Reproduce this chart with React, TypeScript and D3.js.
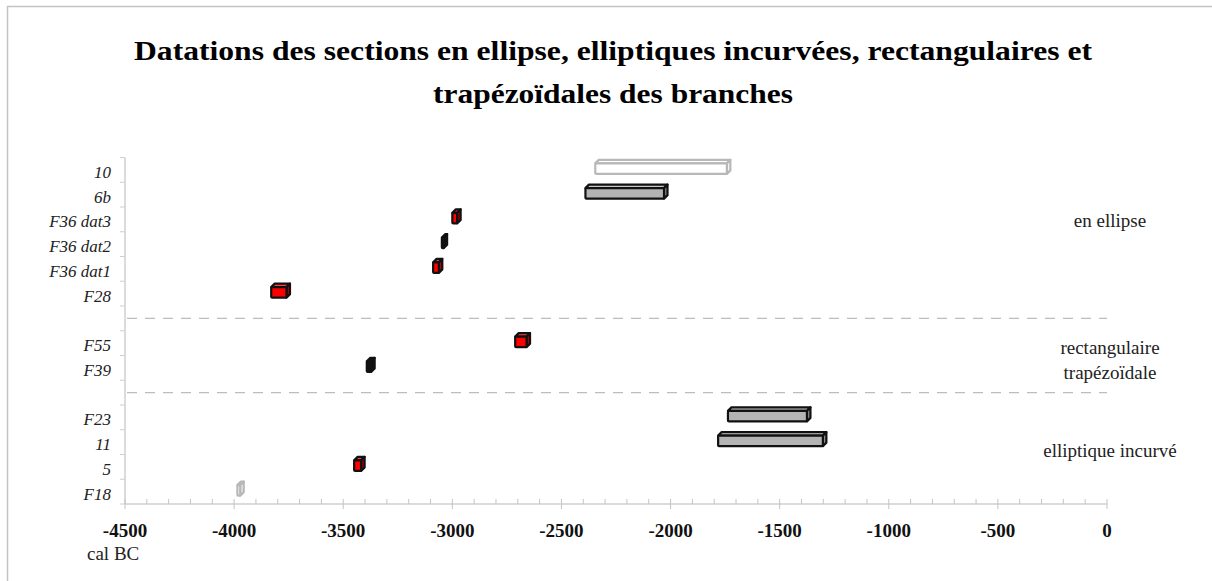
import { useMemo } from "react"
import * as d3 from "d3"

// categories from top to bottom; "gap" keys are the empty rows holding the dashed separators
const categories = ["10", "6b", "F36 dat3", "F36 dat2", "F36 dat1", "F28", "gap1", "F55", "F39", "gap2", "F23", "11", "5", "F18"]
const startValues = [-2345, -2390, -3000, -3048, -3088, -3830, null, -2712, -3392, null, -1737, -1782, -3450, -3985]
const endValues = [-1742, -2030, -2978, -3040, -3062, -3760, null, -2660, -3372, null, -1375, -1302, -3418, -3972]
const barStyles = ["open", "grey", "red", "black", "red", "red", null, "red", "black", null, "grey", "grey", "red", "open"]
const xTicks = [-4500, -4000, -3500, -3000, -2500, -2000, -1500, -1000, -500, 0]
const groupLabels = [
  { lines: ["en ellipse"], at: "F36 dat3", shift: 2 },
  { lines: ["rectangulaire", "trapézoïdale"], at: "F39", shift: -20 },
  { lines: ["elliptique incurvé"], at: "5", shift: -16 },
]
const separators = ["gap1", "gap2"]

const W = 1212
const H = 581
const serif = "'Liberation Serif', 'Times New Roman', serif"

const fills: Record<string, { fill: string; stroke: string; side: string; top: string }> = {
  open: { fill: "#ffffff", stroke: "#b8b8b8", side: "#f4f4f4", top: "#ffffff" },
  grey: { fill: "#b4b4b4", stroke: "#111", side: "#8c8c8c", top: "#c8c8c8" },
  red: { fill: "#ff0000", stroke: "#111", side: "#b00000", top: "#ff4040" },
  black: { fill: "#111", stroke: "#111", side: "#111", top: "#111" },
}

const App = () => {
  const x = useMemo(() => d3.scaleLinear().domain([-4500, 0]).range([125, 1107]), [])
  const y = useMemo(() => d3.scaleBand().domain(categories).range([157.5, 504]).padding(0), [])
  const minor = d3.range(-4500, 1, 100)
  const depth = 3.5

  return (
    <div style={{ position: "absolute", left: 0, top: 0 }}>
      <svg width={W} height={H} style={{ display: "block" }}>
        <rect x={0} y={0} width={W} height={H} fill="#fff" />
        <path d={`M7.5,${H} V6.5 H${W}`} fill="none" stroke="#c4c4c4" strokeWidth={1.5} />

        {/* title */}
        <text x={613} y={60} textAnchor="middle" fontFamily={serif} fontWeight="bold" fontSize={27} textLength={958} lengthAdjust="spacingAndGlyphs">
          Datations des sections en ellipse, elliptiques incurvées, rectangulaires et
        </text>
        <text x={613} y={103} textAnchor="middle" fontFamily={serif} fontWeight="bold" fontSize={27} textLength={360} lengthAdjust="spacingAndGlyphs">
          trapézoïdales des branches
        </text>

        {/* y axis */}
        <line x1={125} x2={125} y1={157.5} y2={504} stroke="#cfcfcf" strokeWidth={1.5} />
        {categories.map((c) => (
          <line key={"yt" + c} x1={120} x2={125} y1={y(c)!} y2={y(c)!} stroke="#cfcfcf" />
        ))}
        <line x1={120} x2={125} y1={504} y2={504} stroke="#cfcfcf" />
        {categories.map((c) =>
          c.startsWith("gap") ? null : (
            <text key={"yl" + c} x={111} y={y(c)! + y.bandwidth() / 2 + 8} textAnchor="end" fontFamily={serif} fontStyle="italic" fontSize={17} fill="#222">
              {c}
            </text>
          )
        )}

        {/* x axis */}
        <line x1={125} x2={1107} y1={504} y2={504} stroke="#cfcfcf" strokeWidth={1.5} />
        {minor.map((v) => (
          <line key={"mn" + v} x1={x(v)} x2={x(v)} y1={499} y2={v % 500 === 0 ? 509 : 504} stroke="#c4c4c4" />
        ))}
        {xTicks.map((v) => (
          <text key={"xl" + v} x={x(v)} y={537} textAnchor="middle" fontFamily={serif} fontWeight="bold" fontSize={19} fill="#111">
            {v}
          </text>
        ))}
        <text x={87} y={560} fontFamily={serif} fontSize={19} fill="#222">cal BC</text>

        {/* separators */}
        {separators.map((s) => (
          <line key={s} x1={127} x2={1107} y1={y(s)! + y.bandwidth() / 2} y2={y(s)! + y.bandwidth() / 2} stroke="#bdbdbd" strokeWidth={1.3} strokeDasharray="10 8" />
        ))}

        {/* 3D bars */}
        {categories.map((c, i) => {
          const s = startValues[i]
          const e = endValues[i]
          const st = barStyles[i]
          if (s == null || e == null || st == null) return null
          const f = fills[st]
          const x0 = x(s)
          const x1 = Math.max(x(e), x0 + 1)
          const yc = y(c)! + y.bandwidth() / 2 - 1.5
          const yt = yc - 5
          const yb = yc + 5.5
          const d = depth
          return (
            <g key={"bar" + c} stroke={f.stroke} strokeWidth={2.2} strokeLinejoin="round">
              <path d={`M${x0},${yt} L${x0 + d},${yt - d} L${x1 + d},${yt - d} L${x1},${yt} Z`} fill={f.top} />
              <path d={`M${x1},${yt} L${x1 + d},${yt - d} L${x1 + d},${yb - d} L${x1},${yb} Z`} fill={f.side} />
              <rect x={x0} y={yt} width={x1 - x0} height={yb - yt} fill={f.fill} rx={1} />
            </g>
          )
        })}

        {/* group labels */}
        {groupLabels.map((g) => {
          const base = y(g.at)! + y.bandwidth() / 2 + g.shift
          return g.lines.map((l, k) => (
            <text key={l} x={1110} y={base + k * 25 + 6} textAnchor="middle" fontFamily={serif} fontSize={19} fill="#222">
              {l}
            </text>
          ))
        })}
      </svg>
    </div>
  )
}

export default App
